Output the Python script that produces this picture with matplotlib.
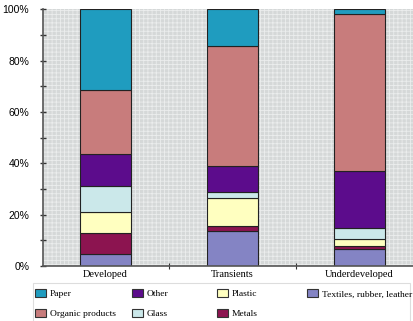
import matplotlib.pyplot as plt
from matplotlib.patches import Rectangle, Patch
from matplotlib.ticker import FuncFormatter
import numpy as np

regions = ['Developed', 'Transients', 'Underdeveloped']
# waste composition, % of total, bottom to top
textiles = [4.7, 13.7, 6.5]
metals = [8.0, 2.1, 1.5]
plastic = [8.3, 10.9, 2.6]
glass = [10.2, 2.0, 4.2]
other = [12.3, 10.3, 22.4]
organic = [25.2, 46.8, 60.8]
paper = [31.3, 14.2, 2.0]

layers = [
    ('Textiles, rubber, leather', textiles, '#8484c4'),
    ('Metals', metals, '#8c1450'),
    ('Plastic', plastic, '#ffffc0'),
    ('Glass', glass, '#cbe8ea'),
    ('Other', other, '#5c0c8c'),
    ('Organic products', organic, '#c87c7c'),
    ('Paper', paper, '#1f9cbf'),
]

plt.rcParams['font.family'] = 'Liberation Sans'
plt.rcParams['hatch.linewidth'] = 0.6
fig = plt.figure(figsize=(4.14, 3.21), dpi=100)
ax = fig.add_axes([0.104, 0.171, 0.896, 0.8])

# fine light-grey mesh backdrop
ax.set_facecolor('#d5d8d8')
ax.add_patch(Rectangle((0, 0), 1, 1, transform=ax.transAxes, facecolor='none',
                       edgecolor='#ebeded', hatch='++++', linewidth=0, zorder=0))

x = np.arange(len(regions))
bottom = np.zeros(len(regions))
handles = {}
for name, vals, col in layers:
    ax.bar(x, vals, width=0.4, bottom=bottom, color=col, edgecolor='#222222',
           linewidth=0.8, zorder=2)
    bottom += np.array(vals)
    handles[name] = Patch(facecolor=col, edgecolor='#333333', linewidth=0.8)

ax.set_xlim(-0.49, 2.43)
ax.set_ylim(0, 100)
ax.set_yticks(np.arange(0, 101, 20))
ax.set_yticks(np.arange(10, 100, 20), minor=True)
ax.yaxis.set_major_formatter(FuncFormatter(lambda v, p: f'{v:.0f}%'))
ax.tick_params(axis='y', which='both', direction='inout', length=4, width=1,
               color='#333333', labelsize=7.5, pad=8)

ax.set_xticks([0.5, 1.5])
ax.set_xticklabels([])
ax.set_xticks(x, minor=True)
ax.set_xticklabels(regions, minor=True, fontfamily='Liberation Serif', fontsize=7.5)
ax.tick_params(axis='x', which='major', direction='inout', length=4, color='#333333')
ax.tick_params(axis='x', which='minor', length=0, pad=3)

for s in ['top', 'right']:
    ax.spines[s].set_visible(False)
for s in ['left', 'bottom']:
    ax.spines[s].set_color('#555555')
    ax.spines[s].set_linewidth(1.2)

# legend frame below the plot
fig.patches.append(Rectangle((33 / 414, -0.01), 0.99 - 33 / 414, (321 - 283) / 321 + 0.01,
                             transform=fig.transFigure, facecolor='white',
                             edgecolor='#dddddd', linewidth=0.8))

# one legend per column so the columns sit where they should
columns = [
    (35, ['Paper', 'Organic products']),
    (132, ['Other', 'Glass']),
    (217, ['Plastic', 'Metals']),
    (307, ['Textiles, rubber, leather']),
]
for xpix, names in columns:
    fig.legend([handles[n] for n in names], names, loc='upper left',
               bbox_to_anchor=(xpix / 414, (321 - 289) / 321), frameon=False,
               prop={'family': 'Liberation Serif', 'size': 6.8},
               handlelength=1.15, handleheight=0.95, handletextpad=0.4,
               labelspacing=1.15, borderpad=0, borderaxespad=0)

fig.savefig('out.png', dpi=100)
